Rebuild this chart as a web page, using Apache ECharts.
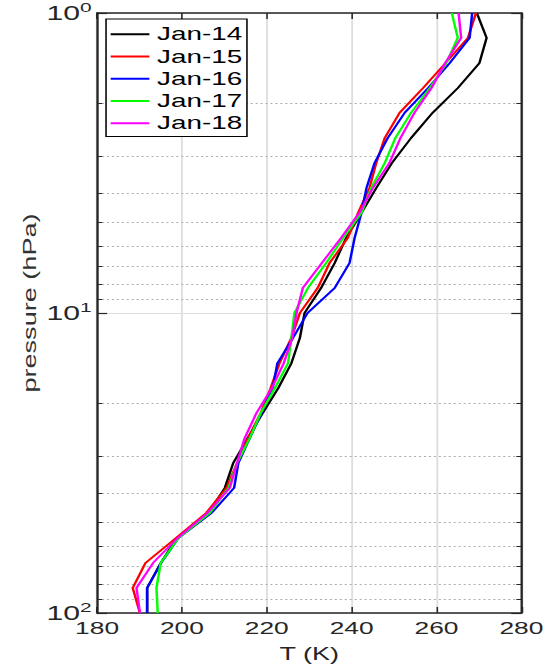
<!DOCTYPE html>
<html>
<head>
<meta charset="utf-8">
<script src="https://cdn.jsdelivr.net/npm/echarts@6/dist/echarts.min.js"></script>
<style>
  html, body { margin: 0; padding: 0; background: #fff; }
  #wrap { width: 548px; height: 668px; overflow: hidden; position: relative; }
  #chart { width: 354px; height: 668px; transform: scaleX(1.548); transform-origin: 0 0; }
</style>
</head>
<body>
<div id="wrap"><div id="chart"></div></div>
<script>
// ---- data ----
const pressure = [100, 82.5, 68.1, 56.2, 46.4, 38.3, 31.6, 26.1, 21.5, 17.8, 14.7, 12.1, 10, 8.25, 6.81, 5.62, 4.64, 3.83, 3.16, 2.61, 2.15, 1.78, 1.47, 1.21, 1.0];
const jan14 = [191.8, 191.8, 195.0, 198.8, 206.2, 210.1, 212.1, 215.5, 219.1, 222.7, 225.8, 227.8, 228.9, 232.8, 236.0, 238.7, 242.3, 245.8, 249.5, 254.0, 259.1, 265.0, 270.1, 271.8, 269.5];
const jan15 = [190.1, 188.4, 191.4, 198.6, 205.7, 210.5, 213.0, 215.6, 218.6, 220.9, 223.0, 225.8, 227.8, 232.0, 234.8, 239.1, 241.5, 244.2, 245.8, 247.8, 251.3, 256.8, 262.1, 267.4, 269.3];
const jan16 = [191.8, 191.8, 195.1, 199.2, 207.0, 212.3, 213.3, 216.0, 218.8, 221.4, 222.5, 226.2, 229.6, 236.0, 239.5, 240.7, 242.3, 243.5, 245.4, 248.5, 252.5, 258.0, 263.1, 267.8, 268.4];
const jan17 = [194.3, 194.0, 195.0, 199.2, 206.6, 211.0, 213.0, 216.0, 218.6, 221.9, 225.0, 225.8, 226.5, 229.7, 234.0, 238.0, 242.3, 244.6, 247.8, 250.3, 254.0, 258.4, 262.3, 265.0, 263.6];
const jan18 = [190.1, 189.3, 193.2, 199.0, 206.0, 211.3, 213.0, 214.8, 217.6, 221.2, 224.0, 226.0, 227.0, 228.5, 233.0, 237.5, 241.8, 245.0, 248.9, 251.5, 254.8, 258.8, 262.0, 265.8, 265.2];
const seriesNames = ['Jan-14', 'Jan-15', 'Jan-16', 'Jan-17', 'Jan-18'];
const seriesValues = [jan14, jan15, jan16, jan17, jan18];
const seriesColors = ['#000000', '#ff0000', '#0000ff', '#00ff00', '#ff00ff'];
const xTicks = [180, 200, 220, 240, 260, 280];
const minorPressure = [2, 3, 4, 5, 6, 7, 8, 9, 20, 30, 40, 50, 60, 70, 80, 90];
const xTitle = 'T (K)';
const yTitle = 'pressure (hPa)';

// ---- chart ----
const FONT = "'Liberation Sans', Arial, Helvetica, sans-serif";
const AX = '#262626';
const STRETCH = 1.548; // wide-font look of the reference (container is scaled by this)
const xMin = xTicks[0], xMax = xTicks[xTicks.length - 1];
const tickLenK = 1.2;

const chart = echarts.init(document.getElementById('chart'), null, { renderer: 'svg' });

const gridMarks = minorPressure.map(v => ({ yAxis: v }));
const minorTickMarks = [];
minorPressure.forEach(v => {
  minorTickMarks.push([{ coord: [xMin, v] }, { coord: [xMin + tickLenK, v] }]);
  minorTickMarks.push([{ coord: [xMax - tickLenK, v] }, { coord: [xMax, v] }]);
});

const series = [
  {
    type: 'line', name: '_grid', data: [], silent: true,
    markLine: {
      silent: true, symbol: 'none', z: 1, animation: false,
      label: { show: false },
      lineStyle: { color: '#adadad', type: [1.3, 1.9], width: 1.1 },
      emphasis: { disabled: true },
      data: gridMarks
    }
  },
  {
    type: 'line', name: '_ticks', data: [], silent: true,
    markLine: {
      silent: true, symbol: 'none', z: 6, animation: false,
      label: { show: false },
      lineStyle: { color: AX, type: 'solid', width: 1 },
      emphasis: { disabled: true },
      data: minorTickMarks
    }
  }
];
seriesNames.forEach((name, i) => {
  series.push({
    type: 'line', name: name,
    data: seriesValues[i].map((t, k) => [t, pressure[k]]),
    symbol: 'none', showSymbol: false, z: 2 + i,
    lineStyle: { color: seriesColors[i], width: 1.6 },
    itemStyle: { color: seriesColors[i] },
    animation: false
  });
});

const option = {
  animation: false,
  backgroundColor: '#fff',
  grid: { left: 62.7, right: 16.2, top: 13, bottom: 50 },
  legend: {
    data: seriesNames, orient: 'vertical', left: 68.5, top: 19,
    icon: 'rect', itemWidth: 25, itemHeight: 2, itemGap: 0,
    padding: [4, 3, 2, 3],
    borderColor: '#000', borderWidth: 1, backgroundColor: '#fff',
    textStyle: { fontSize: 18, lineHeight: 22.3, color: '#000', fontFamily: FONT },
    z: 10
  },
  graphic: [{
    type: 'text', x: 19.4, y: 303, rotation: Math.PI / 2,
    scaleX: STRETCH, scaleY: 1 / STRETCH, z: 10,
    style: { text: yTitle, font: "17.5px 'Liberation Sans', Arial, sans-serif", fill: '#333333', align: 'center', verticalAlign: 'middle' }
  }],
  xAxis: [
    {
      type: 'value', min: xMin, max: xMax, interval: 20, position: 'bottom',
      name: xTitle, nameLocation: 'middle', nameGap: 32,
      nameTextStyle: { fontSize: 17.5, color: AX, fontFamily: FONT },
      axisLine: { show: true, onZero: false, lineStyle: { color: AX, width: 1.5 } },
      axisTick: { show: true, inside: true, length: 6, lineStyle: { color: AX, width: 1 } },
      axisLabel: { fontSize: 17, color: AX, margin: 7, fontFamily: FONT },
      splitLine: { show: true, lineStyle: { color: '#dedede', width: 1.2 } }
    },
    {
      type: 'value', min: xMin, max: xMax, interval: 20, position: 'top',
      axisLine: { show: true, onZero: false, lineStyle: { color: AX, width: 1.5 } },
      axisTick: { show: true, inside: true, length: 6, lineStyle: { color: AX, width: 1 } },
      axisLabel: { show: false },
      splitLine: { show: false }
    }
  ],
  yAxis: [
    {
      type: 'log', logBase: 10, min: 1, max: 100, inverse: true, position: 'left',
      axisLine: { show: true, onZero: false, lineStyle: { color: AX, width: 1.5 } },
      axisTick: { show: true, inside: true, length: 6.5, lineStyle: { color: AX, width: 1.2 } },
      axisLabel: {
        margin: 3.5, color: AX, fontFamily: FONT,
        formatter: v => '{b|10}{s|' + Math.round(Math.log10(v)) + '}',
        rich: {
          b: { fontSize: 19.5, color: AX, fontFamily: FONT, lineHeight: 21 },
          s: { fontSize: 13.5, color: AX, fontFamily: FONT, lineHeight: 14, padding: [0, 0, 12, 0] }
        }
      },
      splitLine: { show: true, lineStyle: { color: '#dedede', width: 1.2 } }
    },
    {
      type: 'log', logBase: 10, min: 1, max: 100, inverse: true, position: 'right',
      axisLine: { show: true, onZero: false, lineStyle: { color: AX, width: 1.5 } },
      axisTick: { show: true, inside: true, length: 6.5, lineStyle: { color: AX, width: 1.2 } },
      axisLabel: { show: false },
      splitLine: { show: false }
    }
  ],
  series: series
};
chart.setOption(option);
</script>
</body>
</html>
